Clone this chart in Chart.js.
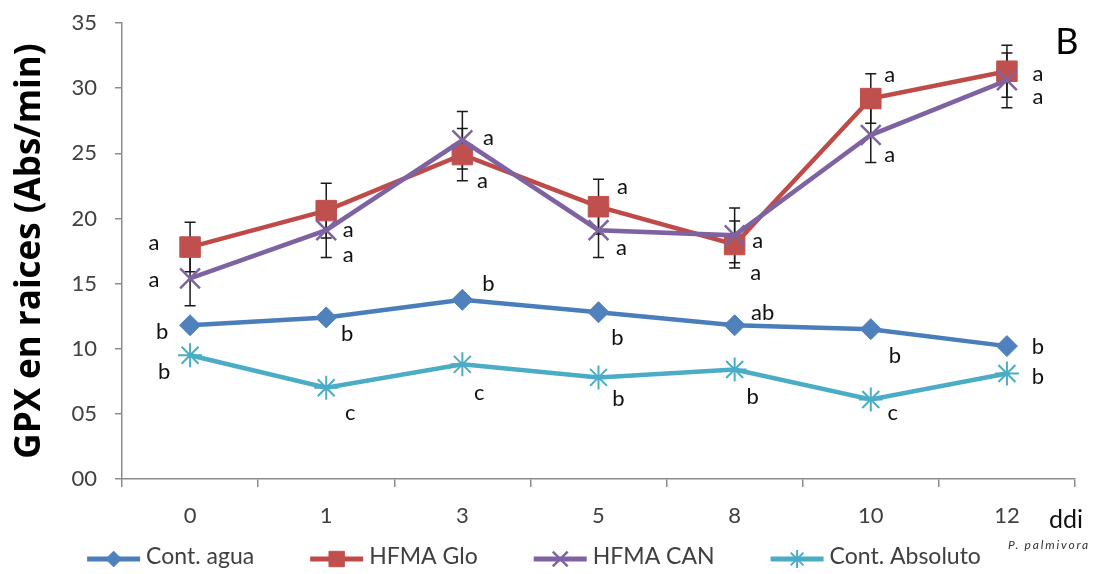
<!DOCTYPE html>
<html>
<head>
<meta charset="utf-8">
<script src="https://cdn.jsdelivr.net/npm/chart.js"></script>
<style>
  html, body { margin: 0; padding: 0; background: #fff; }
  #wrap { width: 1094px; height: 574px; }
</style>
</head>
<body>
<div id="wrap"><canvas id="chart" width="1094" height="574"></canvas></div>
<script>
// ---- data ----
const days = ['0', '1', '3', '5', '8', '10', '12'];
const yTicks = [0, 5, 10, 15, 20, 25, 30, 35];

const aguaValues     = [11.8, 12.4, 13.75, 12.8, 11.8, 11.5, 10.2];
const gloValues      = [17.8, 20.6, 24.9, 20.9, 18.0, 29.2, 31.3];
const canValues      = [15.4, 19.1, 26.0, 19.1, 18.7, 26.4, 30.6];
const absolutoValues = [9.5, 7.0, 8.8, 7.8, 8.4, 6.1, 8.1];

const gloErrors = [1.9, 2.1, 2.0, 2.1, 1.8, 1.9, 2.0];
const canErrors = [2.1, 2.1, 2.2, 2.1, 2.1, 2.1, 2.1];

// significance letters
const aguaLetters     = ['b', 'b', 'b', 'b', 'ab', 'b', 'b'];
const gloLetters      = ['a', 'a', 'a', 'a', 'a', 'a', 'a'];
const canLetters      = ['a', 'a', 'a', 'a', 'a', 'a', 'a'];
const absolutoLetters = ['b', 'c', 'c', 'b', 'b', 'c', 'b'];

// where each letter sits relative to its point (px)
const aguaLetterPos     = [[-28, 7], [21, 16], [26, -16], [19, 26], [28, -12], [24, 27], [31, 1]];
const gloLetterPos      = [[-36, -4], [22, 19], [20, 26], [24, -20], [21, 28], [19, -24], [31, 3]];
const canLetterPos      = [[-36, 2], [22, 25], [26, -2], [23, 18], [23, 6], [19, 20], [31, 17]];
const absolutoLetterPos = [[-26, 17], [24, 25], [17, 29], [20, 22], [18, 27], [22, 13], [31, 3]];

const FONT = 'Lato, "Open Sans", sans-serif';
const TXT = '#404040';

const series = [
    { label: 'Cont. agua', data: aguaValues, color: '#4A7EBB', marker: '#4F81BD', style: 'rectRot', radius: 10.5, mw: 1, order: 2, letters: aguaLetters, pos: aguaLetterPos },
    { label: 'HFMA Glo', data: gloValues, color: '#BE4B48', marker: '#C0504D', style: 'rect', radius: 14.5, mw: 1, order: 1, letters: gloLetters, pos: gloLetterPos, err: gloErrors },
    { label: 'HFMA CAN', data: canValues, color: '#7E62A1', marker: '#8064A2', style: 'crossRot', radius: 14, mw: 2.5, order: 0, letters: canLetters, pos: canLetterPos, err: canErrors },
    { label: 'Cont. Absoluto', data: absolutoValues, color: '#4BACC6', marker: '#4BACC6', style: 'star', radius: 12, mw: 2, order: 3, letters: absolutoLetters, pos: absolutoLetterPos }
];

// =============================
// error bars (under the lines)
// =============================
const errorBars = {
    id: 'errorBars',
    beforeDatasetsDraw(chart) {
        const ctx = chart.ctx, x = chart.scales.x, y = chart.scales.y;
        ctx.save();
        ctx.strokeStyle = '#1a1a1a';
        ctx.lineWidth = 1.5;
        series.forEach(s => {
            if (!s.err) return;
            s.data.forEach((v, i) => {
                const px = x.getPixelForValue(i);
                const top = y.getPixelForValue(v + s.err[i]);
                const bot = y.getPixelForValue(v - s.err[i]);
                ctx.beginPath();
                ctx.moveTo(px, top); ctx.lineTo(px, bot);
                ctx.moveTo(px - 5.5, top); ctx.lineTo(px + 5.5, top);
                ctx.moveTo(px - 5.5, bot); ctx.lineTo(px + 5.5, bot);
                ctx.stroke();
            });
        });
        ctx.restore();
    }
};

// =============================
// letters + extra text + legend
// =============================
function drawMarker(ctx, s, cx, cy, scale) {
    const opts = { pointStyle: s.style, radius: s.radius * scale, rotation: 0, borderWidth: s.mw };
    ctx.fillStyle = s.marker;
    ctx.strokeStyle = s.marker;
    ctx.lineWidth = s.mw;
    if (Chart.helpers && Chart.helpers.drawPoint) {
        Chart.helpers.drawPoint(ctx, opts, cx, cy);
    }
}

const annotations = {
    id: 'annotations',
    afterDraw(chart) {
        const ctx = chart.ctx, x = chart.scales.x, y = chart.scales.y;
        ctx.save();
        ctx.fillStyle = '#111';
        ctx.font = '22px ' + FONT;
        ctx.textAlign = 'center';
        ctx.textBaseline = 'middle';
        series.forEach(s => {
            s.data.forEach((v, i) => {
                const px = x.getPixelForValue(i) + s.pos[i][0];
                const py = y.getPixelForValue(v) + s.pos[i][1];
                ctx.fillText(s.letters[i], px, py);
            });
        });

        // panel letter, axis unit, pathogen note
        ctx.fillStyle = '#000';
        ctx.font = '36px ' + FONT;
        ctx.fillText('B', 1067, 42);
        ctx.textAlign = 'left';
        ctx.textBaseline = 'alphabetic';
        ctx.fillStyle = '#111';
        ctx.font = '25px ' + FONT;
        ctx.fillText('ddi', 1049, 528);
        ctx.font = 'italic 12px ' + FONT;
        ctx.fillStyle = '#333';
        ctx.letterSpacing = '1.8px';
        ctx.fillText('P. palmivora', 1008, 549);
        ctx.letterSpacing = '0px';

        // legend
        ctx.font = '23px ' + FONT;
        const lineLen = 53, gap = 6, spacing = 56;
        const widths = series.map(s => lineLen + gap + ctx.measureText(s.label).width);
        const total = widths.reduce((a, b) => a + b, 0) + spacing * (series.length - 1);
        let lx = 534 - total / 2;
        const ly = 559;
        series.forEach((s, k) => {
            ctx.strokeStyle = s.color;
            ctx.lineWidth = 5;
            ctx.beginPath();
            ctx.moveTo(lx, ly); ctx.lineTo(lx + lineLen, ly);
            ctx.stroke();
            drawMarker(ctx, s, lx + lineLen / 2, ly, 0.75);
            ctx.fillStyle = TXT;
            ctx.textBaseline = 'middle';
            ctx.fillText(s.label, lx + lineLen + gap, ly - 2);
            lx += widths[k] + spacing;
        });
        ctx.restore();
    }
};

new Chart(document.getElementById('chart'), {
    type: 'line',
    data: {
        labels: days,
        datasets: series.map(s => ({
            label: s.label,
            data: s.data,
            order: s.order,
            borderColor: s.color,
            borderWidth: 4.5,
            tension: 0,
            pointStyle: s.style,
            pointRadius: s.radius,
            pointBackgroundColor: s.marker,
            pointBorderColor: s.marker,
            pointBorderWidth: s.mw
        }))
    },
    options: {
        responsive: false,
        animation: false,
        events: [],
        layout: { padding: { left: 0, right: 19, top: 23, bottom: 45 } },
        plugins: { legend: { display: false }, tooltip: { enabled: false } },
        scales: {
            x: {
                offset: true,
                grid: { drawOnChartArea: false, offset: true, tickLength: 8, color: '#8c8c8c', lineWidth: 1.5 },
                border: { color: '#8c8c8c', width: 1.5 },
                ticks: { font: { family: FONT, size: 22 }, color: TXT, padding: 16 },
                afterFit: s => { s.height = 50; }
            },
            y: {
                min: yTicks[0],
                max: yTicks[yTicks.length - 1],
                afterBuildTicks: s => { s.ticks = yTicks.map(v => ({ value: v })); },
                grid: { drawOnChartArea: false, tickLength: 7, color: '#8c8c8c', lineWidth: 1.5 },
                border: { color: '#8c8c8c', width: 1.5 },
                ticks: {
                    font: { family: FONT, size: 22 }, color: TXT, padding: 18,
                    callback: v => String(v).padStart(2, '0')
                },
                title: {
                    display: true,
                    text: 'GPX en raices (Abs/min)',
                    font: { family: '"Open Sans", sans-serif', size: 35, weight: 'bold' },
                    color: '#000',
                    padding: { top: 9, bottom: 0 }
                },
                afterFit: s => { s.width = 122; s.paddingTop = 13; s.paddingBottom = 13; }
            }
        }
    },
    plugins: [errorBars, annotations]
});
</script>
</body>
</html>
